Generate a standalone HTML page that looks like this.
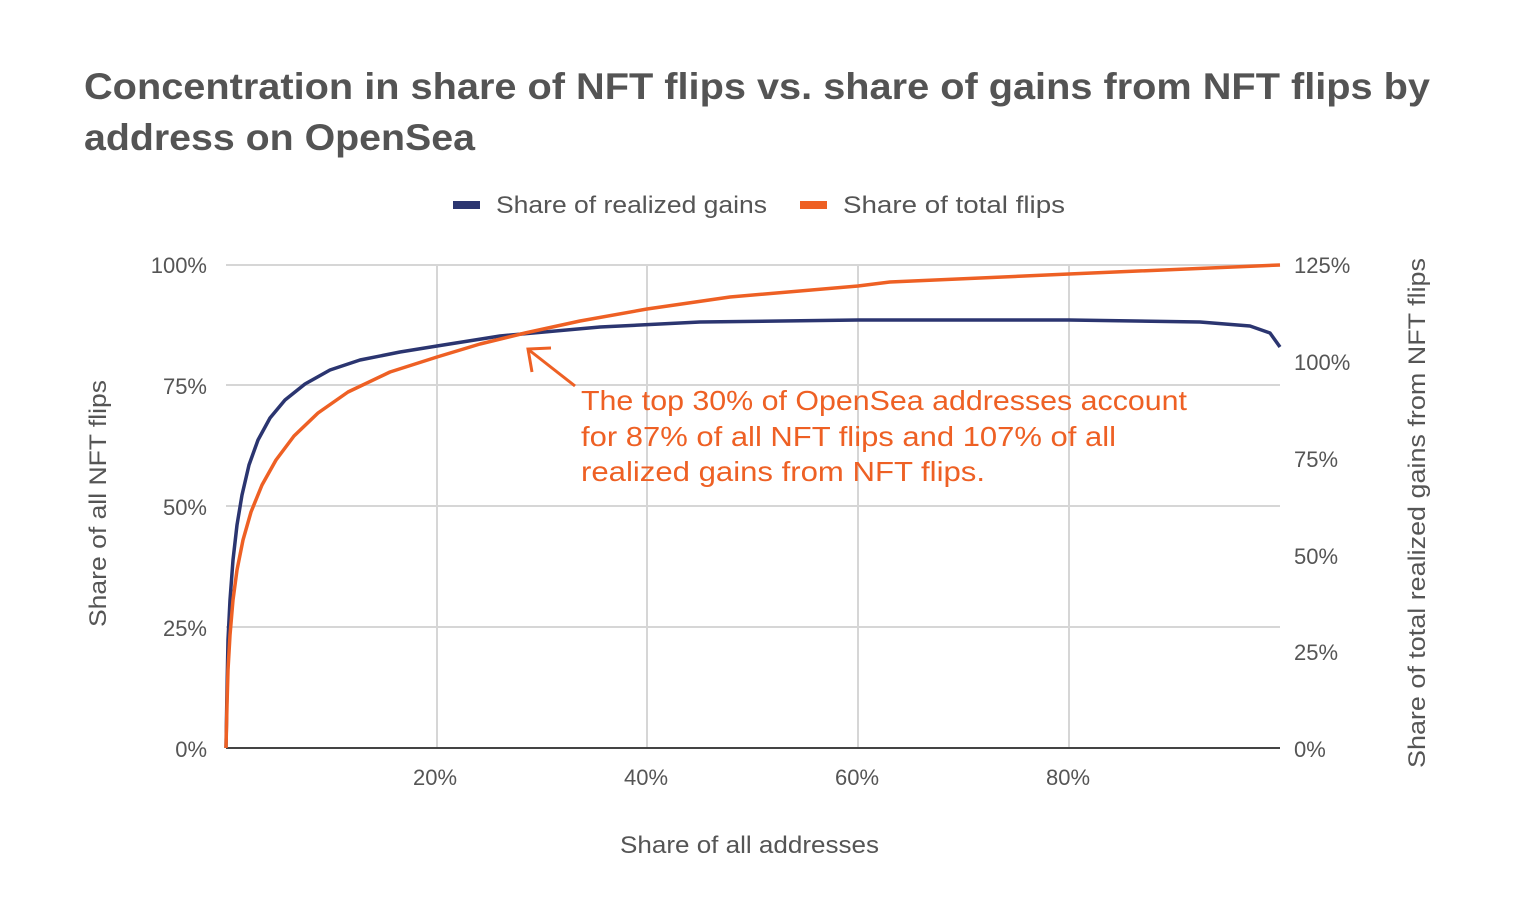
<!DOCTYPE html>
<html><head><meta charset="utf-8"><style>
html,body{margin:0;padding:0;background:#fff;}
body{width:1536px;height:894px;overflow:hidden;font-family:"Liberation Sans",sans-serif;}
</style></head><body>
<svg width="1536" height="894" xmlns="http://www.w3.org/2000/svg" font-family="Liberation Sans, sans-serif">
<text x="84" y="99" font-size="37" font-weight="bold" fill="#545454" textLength="1346" lengthAdjust="spacingAndGlyphs">Concentration in share of NFT flips vs. share of gains from NFT flips by</text>
<text x="84" y="150" font-size="37" font-weight="bold" fill="#545454" textLength="391" lengthAdjust="spacingAndGlyphs">address on OpenSea</text>
<rect x="453" y="201" width="27" height="8" fill="#2b3570"/>
<text x="496" y="213" font-size="24" fill="#555" textLength="271" lengthAdjust="spacingAndGlyphs">Share of realized gains</text>
<rect x="800" y="201" width="27" height="8" fill="#ee6024"/>
<text x="843" y="213" font-size="24" fill="#555" textLength="222" lengthAdjust="spacingAndGlyphs">Share of total flips</text>
<g stroke="#d6d6d6" stroke-width="2">
<line x1="226" y1="265" x2="1280" y2="265"/>
<line x1="226" y1="385" x2="1280" y2="385"/>
<line x1="226" y1="506" x2="1280" y2="506"/>
<line x1="226" y1="627" x2="1280" y2="627"/>
<line x1="437" y1="265" x2="437" y2="748"/>
<line x1="647" y1="265" x2="647" y2="748"/>
<line x1="858" y1="265" x2="858" y2="748"/>
<line x1="1069" y1="265" x2="1069" y2="748"/>
</g>
<line x1="226" y1="748" x2="1280" y2="748" stroke="#444" stroke-width="2"/>
<g font-size="22" fill="#555" text-anchor="end">
<text x="207" y="273">100%</text><text x="207" y="394">75%</text><text x="207" y="515">50%</text><text x="207" y="636">25%</text><text x="207" y="757">0%</text>
</g>
<g font-size="22" fill="#555">
<text x="1294" y="273">125%</text><text x="1294" y="370">100%</text><text x="1294" y="467">75%</text><text x="1294" y="564">50%</text><text x="1294" y="660">25%</text><text x="1294" y="757">0%</text>
</g>
<g font-size="22" fill="#555" text-anchor="middle">
<text x="435" y="785">20%</text><text x="646" y="785">40%</text><text x="857" y="785">60%</text><text x="1068" y="785">80%</text>
</g>
<text x="620" y="853" font-size="24" fill="#555" textLength="259" lengthAdjust="spacingAndGlyphs">Share of all addresses</text>
<text transform="translate(106,627) rotate(-90)" font-size="24" fill="#555" textLength="247" lengthAdjust="spacingAndGlyphs">Share of all NFT flips</text>
<text transform="translate(1425,768) rotate(-90)" font-size="24" fill="#555" textLength="510" lengthAdjust="spacingAndGlyphs">Share of total realized gains from NFT flips</text>
<path fill="none" stroke="#2b3570" stroke-width="3.5" stroke-linejoin="round" d="M226,748 L227,690 L228,640 L230,600 L233,560 L237,525 L242,495 L249,465 L258,440 L270,418 L285,400 L305,384 L330,370 L360,360 L400,352 L437,346 L500,336 L600,327 L700,322 L858,320 L1069,320 L1200,322 L1250,326 L1270,333 L1280,347"/>
<path fill="none" stroke="#ee6024" stroke-width="3.5" stroke-linejoin="round" d="M226,748 L227,705 L228,670 L230,635 L233,600 L237,570 L243,540 L251,512 L262,485 L276,460 L294,436 L318,413 L348,392 L390,372 L437,357 L480,344 L525,333 L580,321 L647,309 L730,297 L858,286 L890,282 L1069,274 L1280,265"/>
<g stroke="#ee6024" stroke-width="3" fill="none">
<line x1="575" y1="386" x2="529" y2="350"/>
<polyline points="532,372 528,349 551,348"/>
</g>
<g font-size="28" fill="#ee6024">
<text x="581" y="410" textLength="606" lengthAdjust="spacingAndGlyphs">The top 30% of OpenSea addresses account</text>
<text x="581" y="446" textLength="535" lengthAdjust="spacingAndGlyphs">for 87% of all NFT flips and 107% of all</text>
<text x="581" y="481" textLength="404" lengthAdjust="spacingAndGlyphs">realized gains from NFT flips.</text>
</g>
</svg>
</body></html>
